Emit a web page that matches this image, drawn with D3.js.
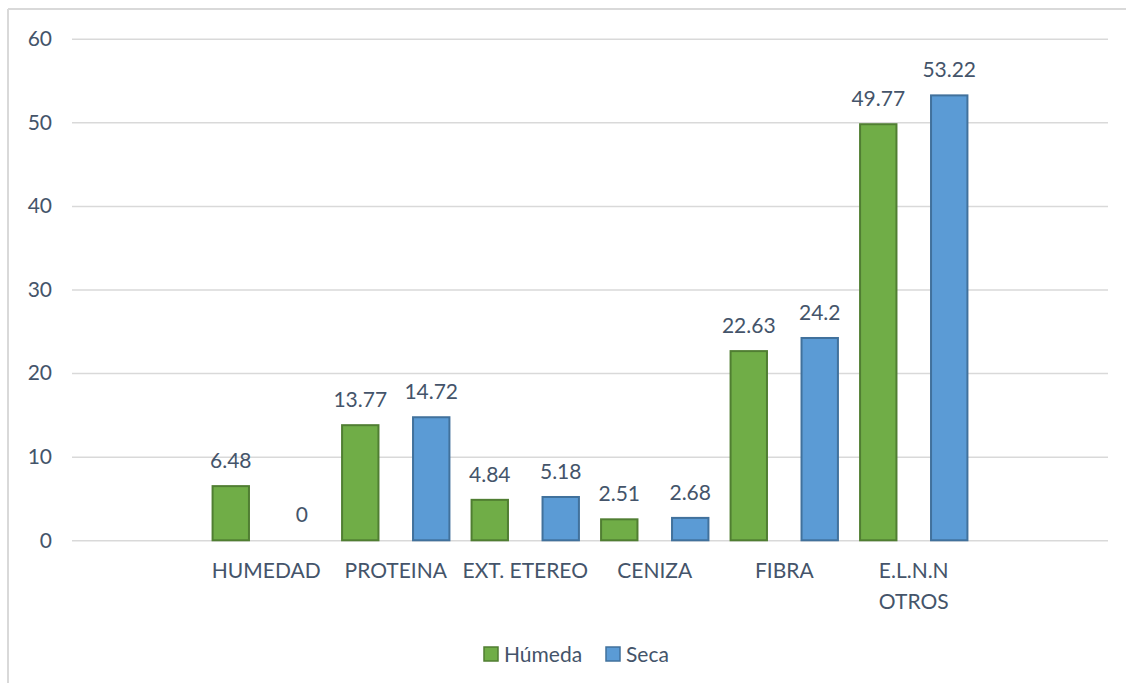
<!DOCTYPE html>
<html>
<head>
<meta charset="utf-8">
<script src="https://cdn.jsdelivr.net/npm/d3@7"></script>
<style>
  html, body { margin: 0; padding: 0; background: #fff; }
  svg { display: block; }
  text { font-family: Lato, "Open Sans", sans-serif; fill: #44546A; }
</style>
</head>
<body>
<svg id="chart" width="1126" height="683"></svg>
<script>
// Data
const categories = ["", "HUMEDAD", "PROTEINA", "EXT. ETEREO", "CENIZA", "FIBRA", "E.L.N.N\nOTROS", " "];
const seriesNames = ["Húmeda", "Seca"];
const humeda = [null, 6.48, 13.77, 4.84, 2.51, 22.63, 49.77, null];
const seca   = [null, 0, 14.72, 5.18, 2.68, 24.2, 53.22, null];
const yTicks = [0, 10, 20, 30, 40, 50, 60];
const colors = ["#70AD47", "#5B9BD5"];
const strokes = ["#507E32", "#41719C"];

const svg = d3.select("#chart");
const W = 1126, H = 683;
const plot = { left: 72, right: 1108, top: 38.7, bottom: 540.3 };
const FS = 21;

// chart frame (top and left edges visible)
svg.append("line").attr("x1", 8).attr("x2", W).attr("y1", 9).attr("y2", 9)
  .attr("stroke", "#D9D9D9").attr("stroke-width", 2);
svg.append("line").attr("x1", 8).attr("x2", 8).attr("y1", 9).attr("y2", H)
  .attr("stroke", "#D9D9D9").attr("stroke-width", 2);

const x = d3.scaleBand().domain(d3.range(categories.length)).range([plot.left, plot.right]).padding(0);
const xs = d3.scaleBand().domain(seriesNames).range([0, x.bandwidth()]).paddingInner(0.487).paddingOuter(0.156);
const y = d3.scaleLinear().domain([0, 60]).range([plot.bottom, plot.top]);

// gridlines
const yAxis = d3.axisLeft(y).tickValues(yTicks).tickSize(-(plot.right - plot.left)).tickPadding(20);
const gy = svg.append("g").attr("transform", `translate(${plot.left},0)`).call(yAxis);
gy.select(".domain").remove();
gy.selectAll(".tick line").attr("stroke", "#D9D9D9").attr("stroke-width", 1.5);
gy.selectAll(".tick text").attr("font-size", FS).style("fill", "#44546A")
  .attr("font-family", "Lato, 'Open Sans', sans-serif");

// bars
const seriesData = [humeda, seca];
seriesData.forEach((vals, si) => {
  const g = svg.append("g");
  const data = vals.map((v, i) => ({ v, i })).filter(d => d.v !== null);
  g.selectAll("rect").data(data.filter(d => d.v > 0)).join("rect")
    .attr("x", d => x(d.i) + xs(seriesNames[si]))
    .attr("y", d => y(d.v))
    .attr("width", xs.bandwidth())
    .attr("height", d => y(0) - y(d.v))
    .attr("fill", colors[si])
    .attr("stroke", strokes[si])
    .attr("stroke-width", 2);
  g.selectAll("text").data(data).join("text")
    .attr("x", d => x(d.i) + xs(seriesNames[si]) + xs.bandwidth() / 2)
    .attr("y", d => y(d.v) - 18)
    .attr("text-anchor", "middle")
    .attr("font-size", FS)
    .text(d => String(d.v));
});

// category labels
const xAxis = svg.append("g");
categories.forEach((c, i) => {
  const lines = c.split("\n");
  const t = xAxis.append("text")
    .attr("x", x(i) + x.bandwidth() / 2)
    .attr("y", 578)
    .attr("text-anchor", "middle")
    .attr("font-size", FS);
  lines.forEach((ln, k) => {
    t.append("tspan").attr("x", x(i) + x.bandwidth() / 2).attr("dy", k === 0 ? 0 : 31).text(ln);
  });
});

// legend
const legend = svg.append("g");
const legendItems = [{ name: seriesNames[0], x: 484 }, { name: seriesNames[1], x: 606 }];
legendItems.forEach((it, i) => {
  legend.append("rect").attr("x", it.x).attr("y", 647).attr("width", 14).attr("height", 14)
    .attr("fill", colors[i]).attr("stroke", strokes[i]).attr("stroke-width", 1.5);
  legend.append("text").attr("x", it.x + 20).attr("y", 662).attr("font-size", FS).text(it.name);
});
</script>
</body>
</html>
